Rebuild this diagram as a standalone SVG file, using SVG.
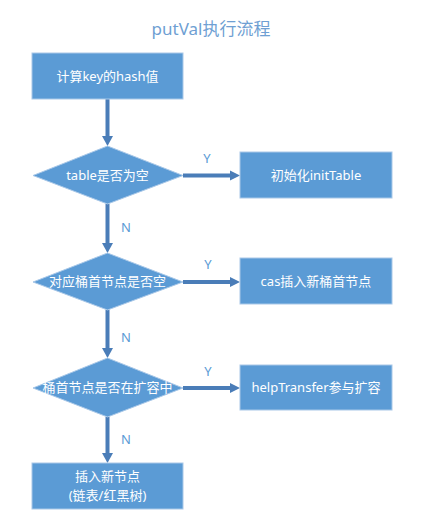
<svg xmlns="http://www.w3.org/2000/svg" width="434" height="529" viewBox="0 0 434 529">
<style>
.node{fill:#5b9bd5;stroke:#a9c8e8;stroke-width:1}
.t{fill:#ffffff;font-family:"Noto Sans","Noto Sans CJK SC",sans-serif;font-size:13px;text-anchor:middle;dominant-baseline:central}
.lbl{fill:#5b9bd5;font-family:"Noto Sans","Noto Sans CJK SC",sans-serif;font-size:13px;text-anchor:middle;dominant-baseline:central}
.title{fill:#6f9fd3;font-family:"Noto Sans","Noto Sans CJK SC",sans-serif;font-size:17px;text-anchor:middle;dominant-baseline:central}
.conn{stroke:#4a7db8;stroke-width:4;fill:none}
.head{fill:#4a7db8}
</style>
<rect width="434" height="529" fill="#ffffff"/>
<text class="title" x="211" y="28">putVal执行流程</text>
<g id="connectors">
<line class="conn" x1="107.5" y1="99" x2="107.5" y2="137"/>
<polygon class="head" points="102,136 113,136 107.5,146"/>
<line class="conn" x1="107.5" y1="204" x2="107.5" y2="244"/>
<polygon class="head" points="102,243 113,243 107.5,253"/>
<line class="conn" x1="107.5" y1="310" x2="107.5" y2="349"/>
<polygon class="head" points="102,348 113,348 107.5,358"/>
<line class="conn" x1="107.5" y1="417" x2="107.5" y2="454"/>
<polygon class="head" points="102,453 113,453 107.5,463"/>
<line class="conn" x1="183" y1="175.5" x2="231" y2="175.5"/>
<polygon class="head" points="230,170.5 230,180.5 240,175.5"/>
<line class="conn" x1="183" y1="282" x2="231" y2="282"/>
<polygon class="head" points="230,277 230,287 240,282"/>
<line class="conn" x1="183" y1="388" x2="231" y2="388"/>
<polygon class="head" points="230,383 230,393 240,388"/>
<text class="lbl" x="207" y="158">Y</text>
<text class="lbl" x="126" y="227">N</text>
<text class="lbl" x="208" y="264">Y</text>
<text class="lbl" x="126" y="337">N</text>
<text class="lbl" x="208" y="371">Y</text>
<text class="lbl" x="126" y="439">N</text>
</g>
<g id="calcHash">
<rect class="node" x="32" y="53" width="151" height="46"/>
<text class="t" x="107.5" y="76">计算key的hash值</text>
</g>
<g id="tableEmpty">
<polygon class="node" points="107.5,146 183,175.5 107.5,204 33,175.5"/>
<text class="t" x="107.5" y="175">table是否为空</text>
</g>
<g id="initTable">
<rect class="node" x="240" y="152" width="152" height="46"/>
<text class="t" x="316" y="175">初始化initTable</text>
</g>
<g id="bucketEmpty">
<polygon class="node" points="107.5,253 183,282 107.5,310 33,282"/>
<text class="t" x="107.5" y="281">对应桶首节点是否空</text>
</g>
<g id="casInsert">
<rect class="node" x="240" y="258" width="152" height="46"/>
<text class="t" x="316" y="281">cas插入新桶首节点</text>
</g>
<g id="resizing">
<polygon class="node" points="107.5,358 183,388 107.5,417 33,388"/>
<text class="t" x="107.5" y="387">桶首节点是否在扩容中</text>
</g>
<g id="helpTransfer">
<rect class="node" x="240" y="365" width="152" height="45"/>
<text class="t" x="316" y="387">helpTransfer参与扩容</text>
</g>
<g id="insertNode">
<rect class="node" x="32" y="463" width="151" height="46"/>
<text class="t" x="107.5" y="476">插入新节点</text>
<text class="t" x="107.5" y="495">(链表/红黑树)</text>
</g>
</svg>
